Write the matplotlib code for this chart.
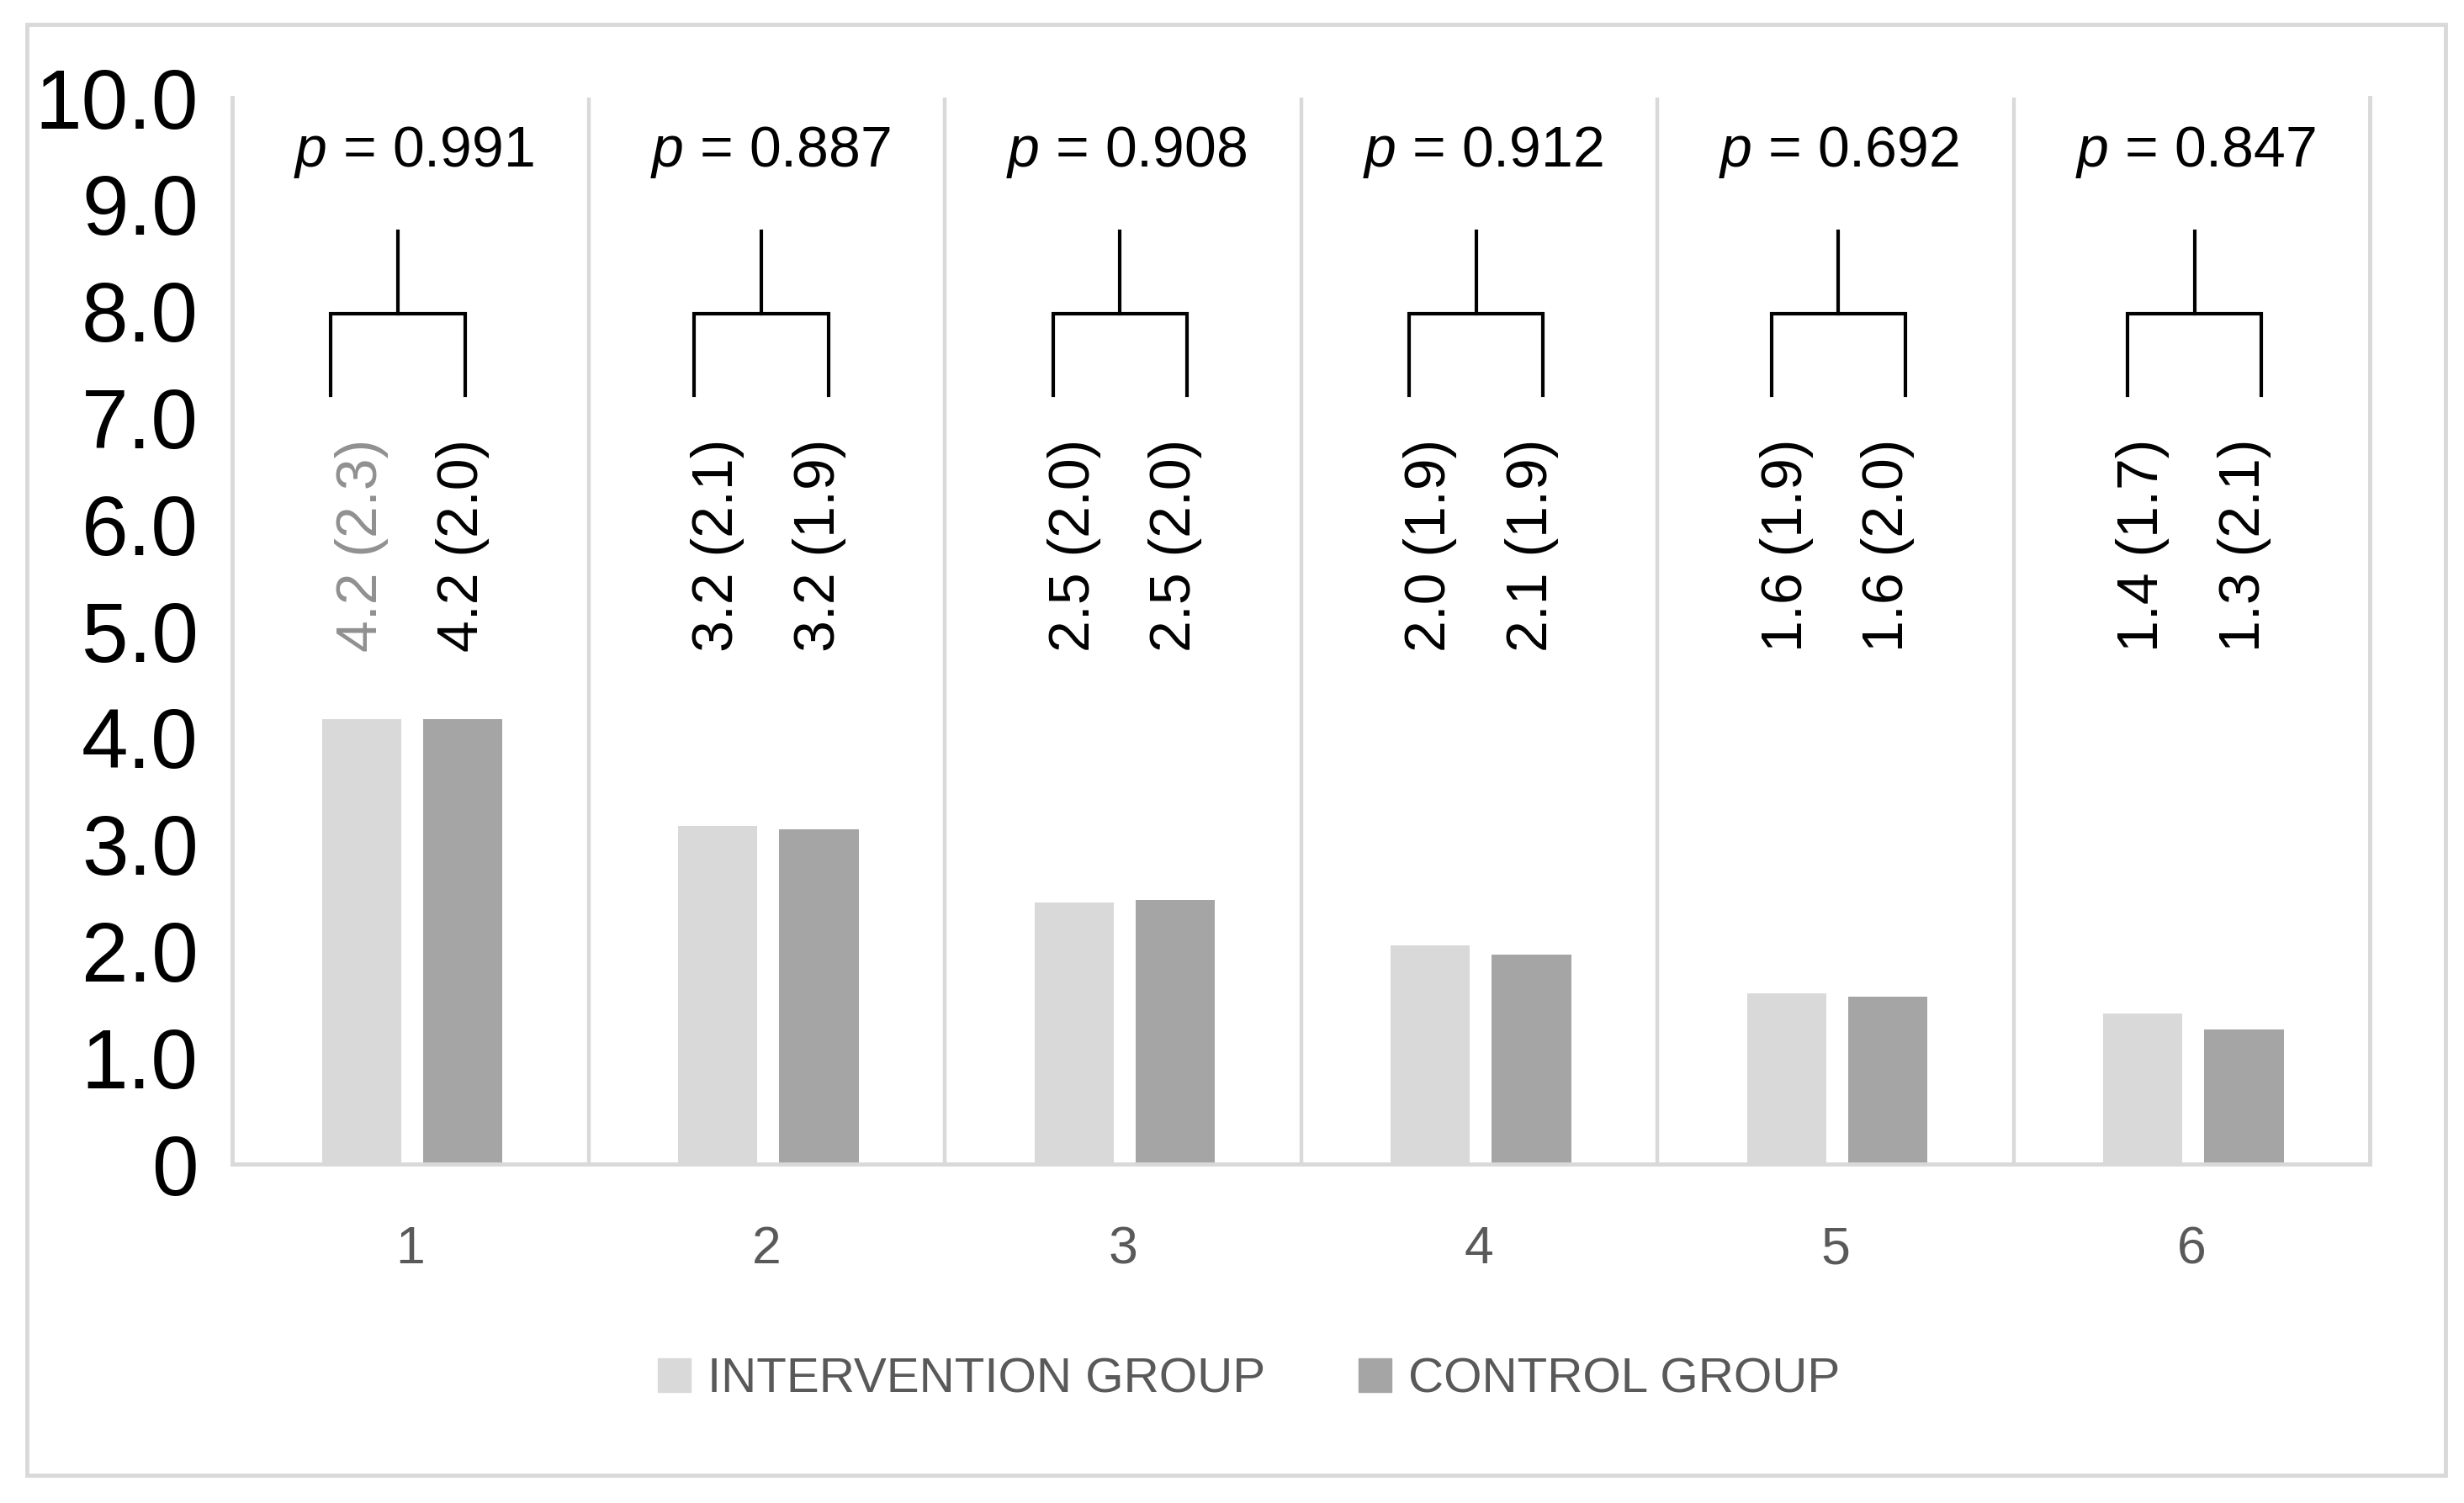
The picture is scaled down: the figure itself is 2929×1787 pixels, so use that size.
import numpy as np
import matplotlib
matplotlib.use("Agg")
import matplotlib.pyplot as plt
from matplotlib.patches import Rectangle, Patch


categories = ["1", "2", "3", "4", "5", "6"]
intervention = [4.17, 3.17, 2.45, 2.05, 1.60, 1.41]
control = [4.17, 3.14, 2.48, 1.96, 1.57, 1.26]
intervention_txt = ["4.2 (2.3)", "3.2 (2.1)", "2.5 (2.0)", "2.0 (1.9)", "1.6 (1.9)", "1.4 (1.7)"]
control_txt = ["4.2 (2.0)", "3.2 (1.9)", "2.5 (2.0)", "2.1 (1.9)", "1.6 (2.0)", "1.3 (2.1)"]
p_values = ["0.991", "0.887", "0.908", "0.912", "0.692", "0.847"]
yticks = [0, 1, 2, 3, 4, 5, 6, 7, 8, 9, 10]
ytick_labels = ["0"] + [f"{v:.1f}" for v in yticks[1:]]

plt.rcParams["font.family"] = ["Liberation Sans", "DejaVu Sans"]
plt.rcParams["mathtext.fontset"] = "custom"
plt.rcParams["mathtext.it"] = "Liberation Sans:italic"
plt.rcParams["mathtext.rm"] = "Liberation Sans"

light = "#D9D9D9"
dark = "#A5A5A5"
grid = "#D9D9D9"

fig = plt.figure(figsize=(29.29, 17.87), dpi=100)
ax = fig.add_axes([276 / 2929, 1 - 1384 / 1787, 2541 / 2929, 1268 / 1787])

x = np.arange(len(categories))
w = 0.222
ax.bar(x - 0.137, intervention, w, color=light, zorder=2)
ax.bar(x + 0.147, control, w, color=dark, zorder=2)

# separators between the groups
for b in x[:-1] + 0.5:
    ax.axvline(b, color=grid, lw=3.2, zorder=1)

# bracket centres are not quite on the category centre in the original
shift = [-0.035, -0.015, -0.008, -0.008, 0.008, 0.008]

for i in x:
    # value labels
    ax.text(i - 0.137, 4.8, intervention_txt[i], rotation=90, ha="center", va="bottom",
            fontsize=49, color="#909090" if i == 0 else "black")
    ax.text(i + 0.147, 4.8, control_txt[i], rotation=90, ha="center", va="bottom",
            fontsize=49, color="black")
    # bracket
    c = i + shift[i]
    ax.plot([c - 0.188, c - 0.188, c + 0.188, c + 0.188], [7.21, 7.97, 7.97, 7.21],
            color="black", lw=3, solid_joinstyle="miter", zorder=3)
    ax.plot([c, c], [7.97, 8.75], color="black", lw=3, zorder=3)
    ax.text(i + 0.01, 9.35, "$p$ = " + p_values[i], ha="center", va="baseline", fontsize=49)

ax.set_xlim(-0.5, 5.5)
ax.set_ylim(0, 10)
ax.set_yticks(yticks)
ax.set_yticklabels(ytick_labels)
ax.set_xticks(x)
ax.set_xticklabels(categories)
ax.tick_params(axis="y", length=0, pad=29, labelsize=72, labelcolor="black")
ax.tick_params(axis="x", length=0, pad=52, labelsize=45, labelcolor="#595959")

ax.spines["top"].set_visible(False)
for s in ["left", "right", "bottom"]:
    ax.spines[s].set_color(grid)
    ax.spines[s].set_linewidth(3.5)

handles = [Patch(color=light, label="INTERVENTION GROUP"),
           Patch(color=dark, label="CONTROL GROUP")]
leg = fig.legend(handles=handles, loc="center", bbox_to_anchor=(0.507, 0.082), ncol=2,
                 frameon=False, fontsize=42, handlelength=0.66, handleheight=0.66,
                 handletextpad=0.35, columnspacing=1.9)
for t in leg.get_texts():
    t.set_color("#595959")

fig.patches.append(Rectangle((32 / 2929, 1 - 1754 / 1787), 2875 / 2929, 1725 / 1787,
                             transform=fig.transFigure, fill=False, edgecolor=light, lw=3.5))

fig.savefig("out.png", dpi=100, facecolor="white")
